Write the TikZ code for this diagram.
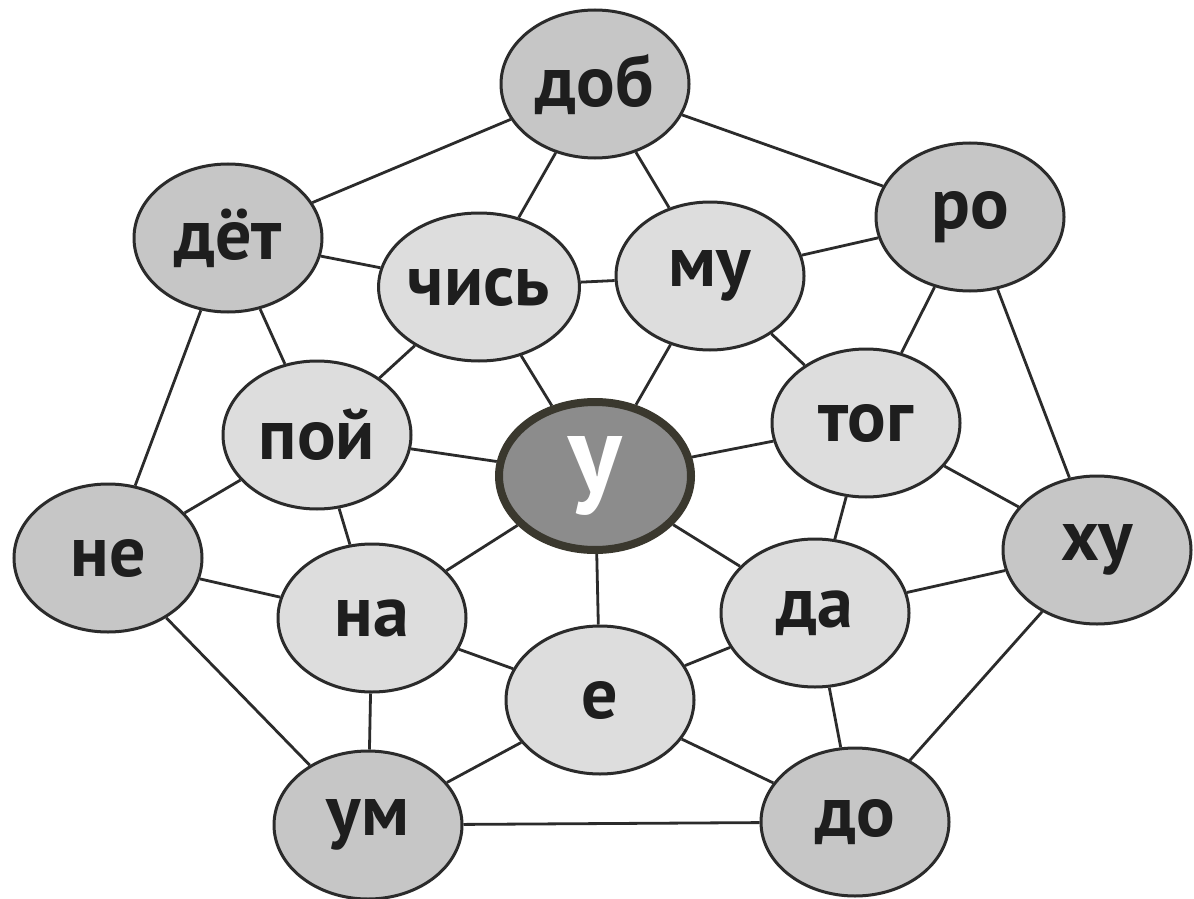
\documentclass[tikz,border=0pt]{standalone}
\usepackage{fontspec}
\setmainfont{PT Sans}
\usetikzlibrary{shapes.geometric,backgrounds}
\definecolor{outerfill}{HTML}{C6C6C6}
\definecolor{innerfill}{HTML}{DDDDDD}
\definecolor{centerfill}{HTML}{8C8C8C}
\definecolor{linecol}{HTML}{2B2B2B}
\definecolor{centerrim}{HTML}{3A382E}
\definecolor{textcol}{HTML}{1E1E1E}
\begin{document}
\begin{tikzpicture}[x=0.5pt,y=-0.5pt,
  syl/.style={ellipse, draw=linecol, line width=1.5pt, minimum width=94pt,
    minimum height=74pt, inner sep=0pt, text=textcol,
    font=\fontsize{36}{40}\selectfont\bfseries},
  outernode/.style={syl, fill=outerfill},
  innernode/.style={syl, fill=innerfill},
  centernode/.style={syl, fill=centerfill, draw=centerrim, line width=4pt,
    minimum width=96pt, minimum height=74pt, text=white,
    font=\fontsize{56}{60}\selectfont\bfseries},
  link/.style={draw=linecol, line width=1.4pt}]
\useasboundingbox (0,0) rectangle (1194,899);
% outer ring
\node[outernode] (dob) at (595,84)  {доб};
\node[outernode] (ro)  at (970,217) {ро};
\node[outernode] (hu)  at (1097,550) {ху};
\node[outernode] (do)  at (855,822) {до};
\node[outernode] (um)  at (368,825) {ум};
\node[outernode] (ne)  at (108,558) {не};
\node[outernode] (det) at (228,238) {дёт};
% inner ring
\node[innernode] (chis) at (479,287) {чись};
\node[innernode] (mu)   at (710,276) {му};
\node[innernode] (tog)  at (866,423) {тог};
\node[innernode] (da)   at (815,613) {да};
\node[innernode] (e)    at (600,700) {е};
\node[innernode] (na)   at (372,618) {на};
\node[innernode] (poy)  at (317,435) {пой};
% centre
\node[centernode] (u) at (595,476) {у};
\begin{scope}[on background layer]
  \fill[white] (0,0) rectangle (1194,899);
  % outer cycle
  \draw[link] (dob) edge (ro) (ro) edge (hu) (hu) edge (do) (do) edge (um)
              (um) edge (ne) (ne) edge (det) (det) edge (dob);
  % inner cycle
  \draw[link] (chis) edge (mu) (mu) edge (tog) (tog) edge (da) (da) edge (e)
              (e) edge (na) (na) edge (poy) (poy) edge (chis);
  % outer to inner
  \draw[link] (dob) edge (chis) (dob) edge (mu)
              (ro) edge (mu) (ro) edge (tog)
              (hu) edge (tog) (hu) edge (da)
              (do) edge (da) (do) edge (e)
              (um) edge (e) (um) edge (na)
              (ne) edge (na) (ne) edge (poy)
              (det) edge (poy) (det) edge (chis);
  % centre spokes
  \draw[link] (u) edge (chis) (u) edge (mu) (u) edge (tog) (u) edge (da)
              (u) edge (e) (u) edge (na) (u) edge (poy);
\end{scope}
\end{tikzpicture}
\end{document}
